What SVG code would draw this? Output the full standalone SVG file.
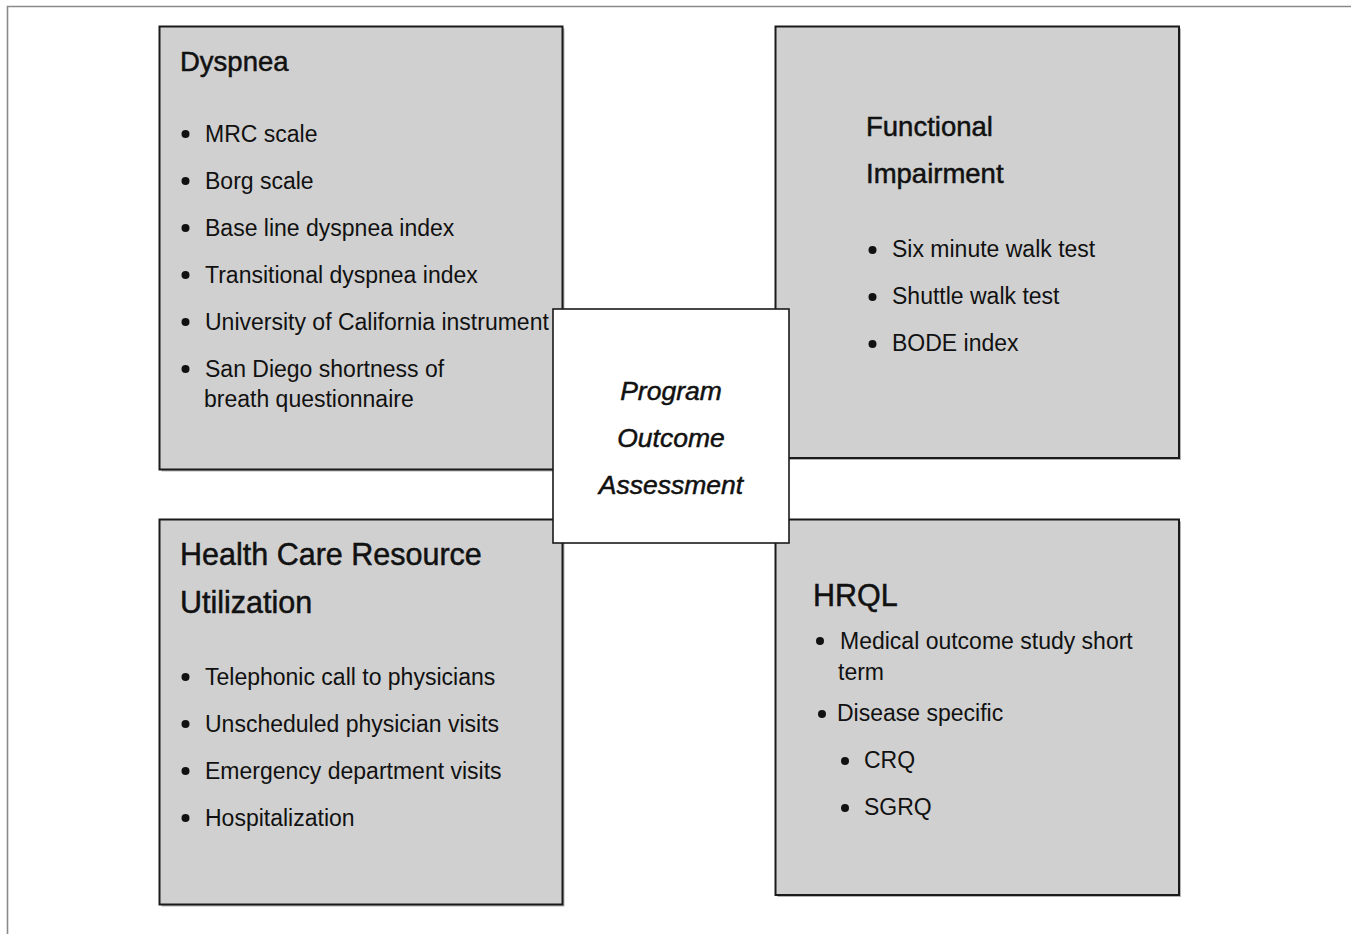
<svg xmlns="http://www.w3.org/2000/svg" width="1351" height="934" viewBox="0 0 1351 934">
  <style>
    text { font-family: "Liberation Sans", Arial, sans-serif; fill: #111; }
    .item { font-size: 23px; }
    .title { font-size: 27.5px; stroke: #111; stroke-width: 0.5; }
    .title-lg { font-size: 30.5px; stroke: #111; stroke-width: 0.5; }
    .center-text { font-size: 26.5px; font-style: italic; text-anchor: middle; stroke: #111; stroke-width: 0.5; }
    .box { fill: #d0d0d0; stroke: #1a1a1a; stroke-width: 2; }
    .shadow { fill: #b4b4b4; }
    .hub { fill: #ffffff; stroke: #1a1a1a; stroke-width: 1.6; }
    .dot { fill: #111; }
    .frame { stroke: #8a8a8a; stroke-width: 1.6; fill: none; }
  </style>

  <rect x="0" y="0" width="1351" height="934" fill="#ffffff"/>

  <!-- page frame -->
  <path class="frame" d="M7.5 934 V6.5 H1351"/>

  <!-- Dyspnea -->
  <g id="node-dyspnea">
    <rect class="shadow" x="161.5" y="28.5" width="403" height="443"/>
    <rect class="box" x="159.5" y="26.5" width="403" height="443"/>
    <text class="title" x="180" y="71">Dyspnea</text>
    <circle class="dot" cx="185.5" cy="134" r="4"/>
    <text class="item" x="205" y="141.5">MRC scale</text>
    <circle class="dot" cx="185.5" cy="181" r="4"/>
    <text class="item" x="205" y="188.5">Borg scale</text>
    <circle class="dot" cx="185.5" cy="228" r="4"/>
    <text class="item" x="205" y="235.5">Base line dyspnea index</text>
    <circle class="dot" cx="185.5" cy="275" r="4"/>
    <text class="item" x="205" y="282.5">Transitional dyspnea index</text>
    <circle class="dot" cx="185.5" cy="322" r="4"/>
    <text class="item" x="205" y="329.5">University of California instrument</text>
    <circle class="dot" cx="185.5" cy="369" r="4"/>
    <text class="item" x="205" y="376.5">San Diego shortness of</text>
    <text class="item" x="204" y="407">breath questionnaire</text>
  </g>

  <!-- Functional Impairment -->
  <g id="node-functional">
    <rect class="shadow" x="777.5" y="28.5" width="403.5" height="431.5"/>
    <rect class="box" x="775.5" y="26.5" width="403.5" height="431.5"/>
    <text class="title" x="866" y="135.5">Functional</text>
    <text class="title" x="866" y="182.5">Impairment</text>
    <circle class="dot" cx="872.5" cy="250" r="4"/>
    <text class="item" x="892" y="257">Six minute walk test</text>
    <circle class="dot" cx="872.5" cy="297" r="4"/>
    <text class="item" x="892" y="304">Shuttle walk test</text>
    <circle class="dot" cx="872.5" cy="344" r="4"/>
    <text class="item" x="892" y="351">BODE index</text>
  </g>

  <!-- Health Care Resource Utilization -->
  <g id="node-healthcare">
    <rect class="shadow" x="161.5" y="521.5" width="403" height="385"/>
    <rect class="box" x="159.5" y="519.5" width="403" height="385"/>
    <text class="title-lg" x="180" y="565">Health Care Resource</text>
    <text class="title-lg" x="180" y="613">Utilization</text>
    <circle class="dot" cx="185.5" cy="677" r="4"/>
    <text class="item" x="205" y="684.5">Telephonic call to physicians</text>
    <circle class="dot" cx="185.5" cy="724" r="4"/>
    <text class="item" x="205" y="731.5">Unscheduled physician visits</text>
    <circle class="dot" cx="185.5" cy="771" r="4"/>
    <text class="item" x="205" y="778.5">Emergency department visits</text>
    <circle class="dot" cx="185.5" cy="818" r="4"/>
    <text class="item" x="205" y="825.5">Hospitalization</text>
  </g>

  <!-- HRQL -->
  <g id="node-hrql">
    <rect class="shadow" x="777.5" y="521.5" width="403.5" height="375.5"/>
    <rect class="box" x="775.5" y="519.5" width="403.5" height="375.5"/>
    <text class="title-lg" x="813" y="606">HRQL</text>
    <circle class="dot" cx="820" cy="641" r="4"/>
    <text class="item" x="840" y="648.5">Medical outcome study short</text>
    <text class="item" x="838" y="679.5">term</text>
    <circle class="dot" cx="822" cy="714" r="4"/>
    <text class="item" x="837" y="721">Disease specific</text>
    <circle class="dot" cx="845" cy="761" r="4"/>
    <text class="item" x="864" y="768">CRQ</text>
    <circle class="dot" cx="845" cy="808" r="4"/>
    <text class="item" x="864" y="815">SGRQ</text>
  </g>

  <!-- central hub -->
  <g id="node-program">
    <rect class="hub" x="553" y="309" width="236" height="234"/>
    <text class="center-text" x="671" y="400">Program</text>
    <text class="center-text" x="671" y="447">Outcome</text>
    <text class="center-text" x="671" y="493.5">Assessment</text>
  </g>

  <g id="connectors"/>
</svg>
